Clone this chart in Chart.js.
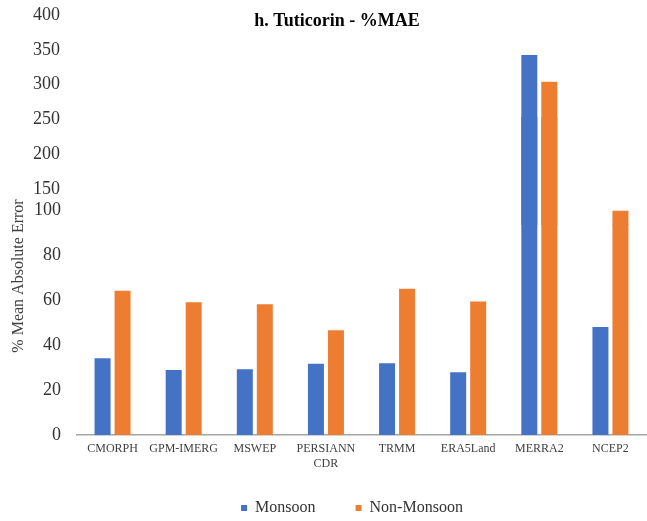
<!DOCTYPE html>
<html>
<head>
<meta charset="utf-8">
<script src="https://cdn.jsdelivr.net/npm/chart.js@4/dist/chart.umd.min.js"></script>
<style>
  html, body { margin: 0; padding: 0; background: #fff; overflow: hidden; width: 647px; height: 521px; }
  .panel { position: absolute; left: 0; top: 0; }
</style>
</head>
<body>
<div class="panel"><canvas id="lower" width="647" height="541"></canvas></div>
<div class="panel"><canvas id="upper" width="647" height="240"></canvas></div>
<script>
// Products compared for Tuticorin
const categories = ['CMORPH', 'GPM-IMERG', 'MSWEP', ['PERSIANN', 'CDR'], 'TRMM', 'ERA5Land', 'MERRA2', 'NCEP2'];
// % mean absolute error per season
const monsoon    = [34.1, 28.9, 29.2, 31.7, 31.9, 27.9, 342.5, 48.0];
const nonMonsoon = [64.1, 59.0, 58.1, 46.5, 65.0, 59.3, 304.1, 99.6];
// Tick values of the two axis segments (broken axis)
const lowerTicks = [0, 20, 40, 60, 80, 100];
const upperTicks = [150, 200, 250, 300, 350, 400];

const SERIF = '"Liberation Serif", "Times New Roman", serif';
const BLUE = '#4472C4';
const ORANGE = '#ED7D31';

function makeDatasets() {
  return [
    { label: 'Monsoon', data: monsoon, backgroundColor: BLUE, clip: 0 },
    { label: 'Non-Monsoon', data: nonMonsoon, backgroundColor: ORANGE, clip: 0 }
  ];
}

// Moves the title and legend blocks after layout
const nudgeBlocks = {
  id: 'nudgeBlocks',
  afterLayout(chart, args, opts) {
    const t = chart.titleBlock, l = chart.legend;
    if (t && opts.titleX) { t.left += opts.titleX; t.right += opts.titleX; }
    if (l && opts.legendX) { l.left += opts.legendX; l.right += opts.legendX; }
    if (l && opts.legendY) { l.top += opts.legendY; l.bottom += opts.legendY; }
  }
};

// Fixed-size vertical axis without the extra label padding
function fixedYAxis(width) {
  return s => { s.width = width; s.paddingTop = 0; s.paddingBottom = 0; };
}

const common = {
  responsive: false,
  devicePixelRatio: 1,
  animation: false,
  datasets: { bar: { categoryPercentage: 0.5624, barPercentage: 0.8 } }
};

// Lower segment: 0 - 100
new Chart(document.getElementById('lower'), {
  type: 'bar',
  data: { labels: categories, datasets: makeDatasets() },
  plugins: [nudgeBlocks],
  options: Object.assign({}, common, {
    layout: { padding: { top: 0, right: 1, bottom: 0, left: 0 } },
    scales: {
      x: {
        grid: { display: false, drawTicks: false },
        border: { display: true, color: '#a6a6a6', width: 1.5 },
        ticks: { padding: 7, color: '#404040', autoSkip: false, maxRotation: 0,
                 font: { family: SERIF, size: 12 } },
        afterFit: s => { s.height = 40; }
      },
      y: {
        min: 0,
        max: 141.3,
        afterBuildTicks: s => { s.ticks = lowerTicks.map(v => ({ value: v })); },
        afterFit: fixedYAxis(77),
        grid: { display: false, drawTicks: false },
        border: { display: false },
        ticks: { padding: 16, color: '#333', font: { family: SERIF, size: 18 } },
        title: { display: true, text: '% Mean Absolute Error', color: '#404040',
                 font: { family: SERIF, size: 16 }, padding: { top: 9, bottom: 0 } }
      }
    },
    plugins: {
      nudgeBlocks: { titleX: 14, legendX: 29, legendY: -15 },
      tooltip: { enabled: false },
      title: {
        display: true,
        text: 'h. Tuticorin - %MAE',
        color: '#000',
        font: { family: SERIF, size: 18, weight: 'bold' },
        padding: { top: 11, bottom: 84.4 }
      },
      legend: {
        position: 'bottom',
        labels: { boxWidth: 6, boxHeight: 6, padding: 40, color: '#333',
                  font: { family: SERIF, size: 16 } }
      }
    }
  })
});

// Upper segment: 150 - 400
new Chart(document.getElementById('upper'), {
  type: 'bar',
  data: { labels: categories, datasets: makeDatasets() },
  options: Object.assign({}, common, {
    layout: { padding: { top: 15, right: 1, bottom: 15, left: 0 } },
    scales: {
      x: { display: false },
      y: {
        min: 98,
        max: 400,
        afterBuildTicks: s => { s.ticks = upperTicks.map(v => ({ value: v })); },
        afterFit: fixedYAxis(77),
        grid: { display: false, drawTicks: false },
        border: { display: false },
        ticks: { padding: 17, color: '#333', font: { family: SERIF, size: 18 } }
      }
    },
    plugins: {
      tooltip: { enabled: false },
      title: { display: false },
      legend: { display: false }
    }
  })
});
</script>
</body>
</html>
